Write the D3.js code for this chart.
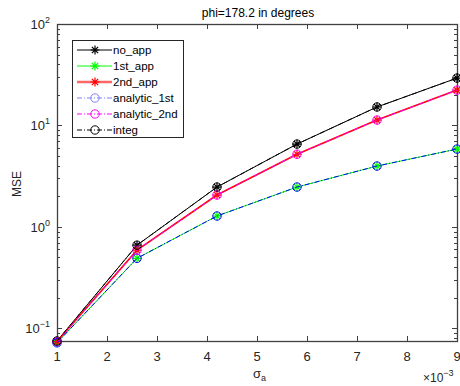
<!DOCTYPE html>
<html>
<head>
<meta charset="utf-8">
<script src="https://cdn.jsdelivr.net/npm/d3@7"></script>
<style>
  body { margin: 0; background: #fff; }
  svg { font-family: "Liberation Sans", Arial, sans-serif; }
</style>
</head>
<body>
<svg id="chart" width="460" height="386"></svg>
<script>
// sigma_a values (x 10^-3)
const sigma = [1, 2.6, 4.2, 5.8, 7.4, 9]

// MSE
const noApp = [0.075, 0.66, 2.47, 6.55, 15.2, 29.3]
const firstApp = [0.072, 0.49, 1.28, 2.47, 3.98, 5.85]
const secondApp = [0.074, 0.59, 2.06, 5.2, 11.3, 22.3]
const analytic1st = [0.072, 0.49, 1.28, 2.47, 3.98, 5.85]
const analytic2nd = [0.074, 0.59, 2.06, 5.2, 11.3, 22.3]
const integ = [0.075, 0.66, 2.47, 6.55, 15.2, 29.3]

const xTicks = [1, 2, 3, 4, 5, 6, 7, 8, 9]
const yDecades = [-1, 0, 1, 2]

const seriesNames = ['no_app', '1st_app', '2nd_app', 'analytic_1st', 'analytic_2nd', 'integ']
const seriesValues = [noApp, firstApp, secondApp, analytic1st, analytic2nd, integ]

// plot box
const LEFT = 57
const RIGHT = 457
const TOP = 24
const BOTTOM = 341
const TICK = 5

const styles = [
  { color: '#000000', width: 1, dash: null, marker: 'star' },
  { color: '#00ff00', width: 1, dash: null, marker: 'star' },
  { color: '#ff0000', width: 1.6, dash: null, marker: 'star' },
  { color: '#0000ff', width: 1, dash: '5,2,1,2', marker: 'circle' },
  { color: '#ff00ff', width: 1, dash: '5,2,1,2', marker: 'circle' },
  { color: '#000000', width: 1, dash: '5,2,1,2', marker: 'circle' }
]

const svg = d3.select('#chart')

const x = d3.scaleLinear().domain([1, 9]).range([LEFT, RIGHT])
const y = d3.scaleLog().domain([0.075, 100]).range([BOTTOM, TOP])

const axisColor = '#404040'

// minor log ticks
const minor = []
for (let e = -2; e <= 1; e++) {
  for (let m = 2; m <= 9; m++) {
    const v = m * Math.pow(10, e)
    if (v >= 0.075 && v <= 100) minor.push(v)
  }
}

const g = svg.append('g')

// ticks, inward on all four sides
const ticks = g.append('g').attr('stroke', axisColor).attr('stroke-width', 1)
xTicks.forEach((t) => {
  const px = Math.round(x(t)) + 0.5
  ticks.append('line').attr('x1', px).attr('x2', px).attr('y1', BOTTOM).attr('y2', BOTTOM - TICK)
  ticks.append('line').attr('x1', px).attr('x2', px).attr('y1', TOP).attr('y2', TOP + TICK)
})
yDecades.forEach((e) => {
  const py = Math.round(y(Math.pow(10, e))) + 0.5
  ticks.append('line').attr('x1', LEFT).attr('x2', LEFT + TICK).attr('y1', py).attr('y2', py)
  ticks.append('line').attr('x1', RIGHT).attr('x2', RIGHT - TICK).attr('y1', py).attr('y2', py)
})
minor.forEach((v) => {
  const py = Math.round(y(v)) + 0.5
  ticks.append('line').attr('x1', LEFT).attr('x2', LEFT + 3).attr('y1', py).attr('y2', py)
  ticks.append('line').attr('x1', RIGHT).attr('x2', RIGHT - 3).attr('y1', py).attr('y2', py)
})

// box
g.append('rect')
  .attr('x', LEFT + 0.5).attr('y', TOP + 0.5)
  .attr('width', RIGHT - LEFT).attr('height', BOTTOM - TOP)
  .attr('fill', 'none').attr('stroke', axisColor).attr('stroke-width', 1.3)

// tick labels
xTicks.forEach((t) => {
  g.append('text').attr('x', x(t)).attr('y', BOTTOM + 20)
    .attr('text-anchor', 'middle').attr('font-size', 13).attr('fill', '#262626')
    .text(t)
})
yDecades.forEach((e) => {
  const label = g.append('text').attr('x', LEFT - 7).attr('y', y(Math.pow(10, e)) + 5)
    .attr('text-anchor', 'end').attr('font-size', 13).attr('fill', '#262626')
  label.append('tspan').text('10')
  label.append('tspan').attr('dy', -6).attr('font-size', 9)
    .text(e < 0 ? '\u2212' + (-e) : e)
  label.attr('transform', null)
})

// exponent label
const exp = g.append('text').attr('x', 423).attr('y', 382)
  .attr('font-size', 12).attr('fill', '#262626')
exp.append('tspan').text('\u00d710')
exp.append('tspan').attr('dy', -6).attr('font-size', 9).text('\u22123')

// title and axis labels
svg.append('text').attr('x', 258).attr('y', 17).attr('text-anchor', 'middle')
  .attr('font-size', 12).attr('fill', '#000').text('phi=178.2 in degrees')
svg.append('text').attr('transform', 'translate(21,184) rotate(-90)')
  .attr('text-anchor', 'middle').attr('font-size', 12).attr('fill', '#262626').text('MSE')
const xl = svg.append('text').attr('x', 253).attr('y', 378).attr('font-size', 13).attr('fill', '#262626')
xl.append('tspan').text('\u03c3')
xl.append('tspan').attr('dy', 3).attr('font-size', 9).text('a')

// marker drawing
const drawMarker = (sel, kind, color, cx, cy) => {
  if (kind === 'star') {
    const r = 4.5
    const d = r * 0.7
    sel.append('path')
      .attr('d', `M${cx - r},${cy}H${cx + r}M${cx},${cy - r}V${cy + r}` +
        `M${cx - d},${cy - d}L${cx + d},${cy + d}M${cx - d},${cy + d}L${cx + d},${cy - d}`)
      .attr('stroke', color).attr('stroke-width', 1.2).attr('fill', 'none')
  } else {
    sel.append('circle').attr('cx', cx).attr('cy', cy).attr('r', 4.2)
      .attr('stroke', color).attr('stroke-width', 1).attr('fill', 'none')
  }
}

// series
const line = d3.line().x((d, i) => x(sigma[i])).y((d) => y(d))
const plot = svg.append('g')
seriesValues.forEach((vals, k) => {
  const s = styles[k]
  plot.append('path').datum(vals).attr('d', line)
    .attr('fill', 'none').attr('stroke', s.color).attr('stroke-width', s.width)
    .attr('stroke-dasharray', s.dash)
  vals.forEach((v, i) => drawMarker(plot, s.marker, s.color, x(sigma[i]), y(v)))
})

// legend
const lg = svg.append('g')
lg.append('rect').attr('x', 72.5).attr('y', 40.5).attr('width', 111).attr('height', 97)
  .attr('fill', '#fff').attr('stroke', '#262626').attr('stroke-width', 1)
seriesNames.forEach((name, k) => {
  const s = styles[k]
  const ly = 50 + k * 16
  lg.append('line').attr('x1', 77).attr('x2', 112).attr('y1', ly).attr('y2', ly)
    .attr('stroke', k === 3 ? '#8080ff' : s.color).attr('stroke-width', k === 2 ? 2.5 : s.width)
    .attr('stroke-opacity', k === 2 ? 0.6 : 1)
    .attr('stroke-dasharray', s.dash)
  drawMarker(lg, s.marker, k === 3 ? '#8080ff' : s.color, 95, ly)
  lg.append('text').attr('x', 113).attr('y', ly + 4).attr('font-size', 11.5)
    .attr('fill', '#000').text(name)
})
</script>
</body>
</html>
